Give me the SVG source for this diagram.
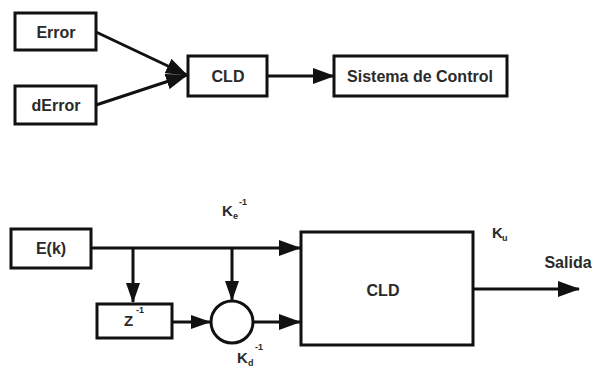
<svg xmlns="http://www.w3.org/2000/svg" width="597" height="368" viewBox="0 0 597 368">
  <style>
    .box { fill: #fff; stroke: #111; stroke-width: 3; }
    .wire { fill: none; stroke: #111; stroke-width: 3; }
    .lbl { font-family: "Liberation Sans", Arial, sans-serif; font-weight: bold; font-size: 16px; fill: #2a2a2a; text-anchor: middle; dominant-baseline: central; }
    .k { font-family: "Liberation Sans", Arial, sans-serif; font-weight: bold; font-size: 15px; fill: #2a2a2a; }
    .sm { font-family: "Liberation Sans", Arial, sans-serif; font-weight: bold; font-size: 9px; fill: #2a2a2a; }
  </style>
  <defs>
    <marker id="arrow" viewBox="0 0 22 16" refX="21" refY="8" markerWidth="22" markerHeight="16" markerUnits="userSpaceOnUse" orient="auto">
      <path d="M0,0 L22,8 L0,16 Z" fill="#111"/>
    </marker>
    <marker id="arrowS" viewBox="0 0 20 14" refX="19" refY="7" markerWidth="20" markerHeight="14" markerUnits="userSpaceOnUse" orient="auto">
      <path d="M0,0 L20,7 L0,14 Z" fill="#111"/>
    </marker>
  </defs>

  <!-- connectors -->
  <g id="connectors">
    <line class="wire" x1="96" y1="32" x2="187" y2="75" marker-end="url(#arrow)"/>
    <line class="wire" x1="96" y1="105" x2="187" y2="75" marker-end="url(#arrow)"/>
    <line class="wire" x1="267" y1="76" x2="334" y2="76" marker-end="url(#arrow)"/>

    <line class="wire" x1="91" y1="248" x2="300" y2="248" marker-end="url(#arrow)"/>
    <line class="wire" x1="133" y1="248" x2="133" y2="302" marker-end="url(#arrowS)"/>
    <line class="wire" x1="232" y1="248" x2="232" y2="300" marker-end="url(#arrowS)"/>
    <line class="wire" x1="172" y1="322" x2="210" y2="322" marker-end="url(#arrowS)"/>
    <line class="wire" x1="254" y1="322" x2="300" y2="322" marker-end="url(#arrow)"/>
    <line class="wire" x1="473" y1="289" x2="579" y2="289" marker-end="url(#arrow)"/>
  </g>

  <!-- upper block chain -->
  <g id="error">
    <rect class="box" x="15" y="13" width="81" height="37"/>
    <text class="lbl" x="56" y="32">Error</text>
  </g>
  <g id="derror">
    <rect class="box" x="15" y="86" width="81" height="38"/>
    <text class="lbl" x="56" y="105">dError</text>
  </g>
  <g id="cld-top">
    <rect class="box" x="188" y="56" width="79" height="40"/>
    <text class="lbl" x="228" y="76">CLD</text>
  </g>
  <g id="sistema">
    <rect class="box" x="334" y="56" width="173" height="40"/>
    <text class="lbl" x="420" y="76">Sistema de Control</text>
  </g>

  <!-- lower block chain -->
  <g id="ek">
    <rect class="box" x="11" y="229" width="80" height="39"/>
    <text class="lbl" x="51" y="248">E(k)</text>
  </g>
  <g id="zinv">
    <rect class="box" x="97" y="304" width="75" height="34"/>
    <text class="k" x="124" y="326">Z</text>
    <text class="sm" x="136" y="313">-1</text>
  </g>
  <g id="sum">
    <circle class="box" cx="232" cy="322" r="21"/>
  </g>
  <g id="cld-main">
    <rect class="box" x="301" y="232" width="172" height="113"/>
    <text class="lbl" x="383" y="290">CLD</text>
  </g>

  <!-- gain and output labels -->
  <g id="labels">
    <text class="k" x="222" y="216">K</text>
    <text class="sm" x="233" y="219">e</text>
    <text class="sm" x="239" y="205">-1</text>

    <text class="k" x="237" y="363">K</text>
    <text class="sm" x="248" y="366">d</text>
    <text class="sm" x="255" y="350">-1</text>

    <text class="k" x="492" y="238">K</text>
    <text class="sm" x="502" y="241">u</text>

    <text class="lbl" x="568" y="262">Salida</text>
  </g>
</svg>
